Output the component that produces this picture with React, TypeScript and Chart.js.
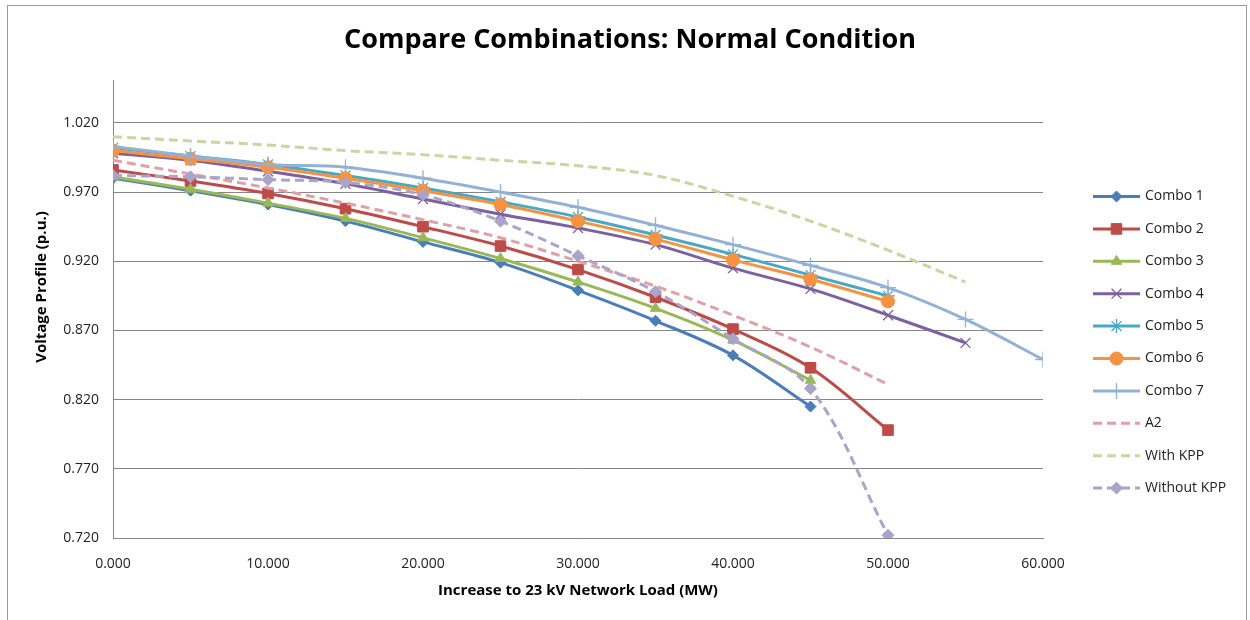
import React, { useEffect, useRef } from 'react';
import { Chart, registerables } from 'chart.js';
import { drawPoint } from 'chart.js/helpers';

Chart.register(...registerables);

// ---- data ----
const loads = [0, 5, 10, 15, 20, 25, 30, 35, 40, 45, 50, 55, 60];

const seriesNames = ['Combo 1', 'Combo 2', 'Combo 3', 'Combo 4', 'Combo 5', 'Combo 6', 'Combo 7', 'A2', 'With KPP', 'Without KPP'];

const combo1 = [0.980, 0.971, 0.961, 0.949, 0.934, 0.919, 0.899, 0.877, 0.852, 0.815];
const combo2 = [0.986, 0.978, 0.969, 0.958, 0.945, 0.931, 0.914, 0.894, 0.871, 0.843, 0.798];
const combo3 = [0.981, 0.972, 0.962, 0.951, 0.937, 0.922, 0.905, 0.886, 0.863, 0.834];
const combo4 = [0.998, 0.993, 0.985, 0.976, 0.965, 0.954, 0.944, 0.932, 0.915, 0.900, 0.881, 0.861];
const combo5 = [1.002, 0.996, 0.990, 0.982, 0.973, 0.963, 0.952, 0.939, 0.925, 0.910, 0.895];
const combo6 = [1.000, 0.994, 0.988, 0.980, 0.971, 0.961, 0.949, 0.936, 0.921, 0.907, 0.891];
const combo7 = [1.003, 0.996, 0.990, 0.988, 0.980, 0.970, 0.959, 0.946, 0.932, 0.917, 0.901, 0.878, 0.849];
const a2 = [0.993, 0.983, 0.973, 0.962, 0.950, 0.937, 0.920, 0.902, 0.881, 0.858, 0.831];
const withKpp = [1.010, 1.007, 1.004, 1.000, 0.997, 0.993, 0.989, 0.982, 0.967, 0.949, 0.928, 0.905];
const withoutKpp = [0.982, 0.981, 0.979, 0.977, 0.968, 0.949, 0.924, 0.898, 0.864, 0.828, 0.722];

const seriesValues = [combo1, combo2, combo3, combo4, combo5, combo6, combo7, a2, withKpp, withoutKpp];

const xTickValues = [0, 10, 20, 30, 40, 50, 60];
const yTickValues = [0.72, 0.77, 0.82, 0.87, 0.92, 0.97, 1.02];

const TITLE = 'Compare Combinations: Normal Condition';
const X_TITLE = 'Increase to 23 kV Network Load (MW)';
const Y_TITLE = 'Voltage Profile (p.u.)';

// ---- styles ----
const colors = ['#4A7EBB', '#BE4B48', '#98B954', '#7D60A0', '#46AAC5', '#F69240', '#93B1D7', '#E0A0A6', '#C5D8A0', '#A8A4CA'];
const pointStyles = ['rectRot', 'rect', 'triangle', 'crossRot', 'star', 'circle', 'cross', 'circle', 'circle', 'rectRot'];
const pointRadii = [5.5, 7.5, 6, 7, 7, 6.5, 8, 0, 0, 6];
const dashes: number[][] = [[], [], [], [], [], [], [], [9, 5], [9, 5], [9, 5]];

const FONT = '"Open Sans", sans-serif';

const decorPlugin = {
  id: 'decor',
  beforeDraw(chart: any) {
    const ctx = chart.ctx;
    ctx.save();
    ctx.fillStyle = '#ffffff';
    ctx.fillRect(0, 0, chart.width, chart.height);
    ctx.restore();
  },
  afterDraw(chart: any) {
    const ctx = chart.ctx;
    const area = chart.chartArea;
    ctx.save();
    // frame
    ctx.strokeStyle = '#9a9a9a';
    ctx.lineWidth = 1;
    ctx.strokeRect(7.5, 5.5, 1239, 640);

    // title
    ctx.fillStyle = '#000000';
    ctx.font = `bold 27px ${FONT}`;
    ctx.textAlign = 'center';
    ctx.textBaseline = 'middle';
    ctx.fillText(TITLE, 630, 40);

    // axis titles
    ctx.font = `bold 15px ${FONT}`;
    ctx.fillText(X_TITLE, (area.left + area.right) / 2, 591);
    ctx.save();
    ctx.translate(42, 287);
    ctx.rotate(-Math.PI / 2);
    ctx.fillText(Y_TITLE, 0, 0);
    ctx.restore();

    // legend
    const lx0 = 1093;
    const lx1 = 1140;
    const ly0 = 196.5;
    const step = 32.4;
    chart.data.datasets.forEach((ds: any, i: number) => {
      const y = ly0 + i * step;
      ctx.save();
      ctx.strokeStyle = ds.borderColor;
      ctx.lineWidth = 3;
      ctx.setLineDash(ds.borderDash || []);
      ctx.beginPath();
      ctx.moveTo(lx0, y);
      ctx.lineTo(lx1, y);
      ctx.stroke();
      ctx.restore();
      if (ds.pointRadius > 0) {
        ctx.save();
        ctx.fillStyle = ds.backgroundColor;
        ctx.strokeStyle = ds.borderColor;
        ctx.lineWidth = ds.pointBorderWidth;
        drawPoint(ctx, { pointStyle: ds.pointStyle, radius: ds.pointRadius, borderWidth: ds.pointBorderWidth, rotation: 0 }, (lx0 + lx1) / 2, y);
        ctx.restore();
      }
      ctx.fillStyle = '#222222';
      ctx.font = `14px ${FONT}`;
      ctx.textAlign = 'left';
      ctx.textBaseline = 'middle';
      ctx.fillText(ds.label, 1145, y);
    });
    ctx.restore();
  },
};

export default function App() {
  const ref = useRef<HTMLCanvasElement | null>(null);

  useEffect(() => {
    if (!ref.current) return;
    const n = seriesNames.length;
    const datasets = seriesNames.map((name, i) => {
      const lineMarker = ['star', 'cross', 'crossRot'].includes(pointStyles[i]);
      return {
        label: name,
        data: seriesValues[i].map((v, k) => ({ x: loads[k], y: v })),
        borderColor: colors[i],
        backgroundColor: colors[i],
        borderWidth: 3,
        borderDash: dashes[i],
        pointStyle: pointStyles[i],
        pointRadius: pointRadii[i],
        pointHoverRadius: pointRadii[i],
        pointBorderWidth: lineMarker ? 1.3 : 1,
        pointBorderColor: colors[i],
        pointBackgroundColor: colors[i],
        tension: 0.35,
        fill: false,
        order: n - i,
      };
    });

    const chart = new Chart(ref.current, {
      type: 'line',
      data: { datasets },
      options: {
        animation: false,
        responsive: false,
        devicePixelRatio: 1,
        layout: { padding: { top: 80, right: 207, left: 0, bottom: 0 } },
        plugins: { legend: { display: false }, title: { display: false }, tooltip: { enabled: false } },
        scales: {
          x: {
            type: 'linear',
            min: 0,
            max: 60,
            afterBuildTicks: (scale: any) => {
              scale.ticks = xTickValues.map((v) => ({ value: v }));
            },
            afterFit: (scale: any) => {
              scale.height = 82;
            },
            grid: { display: false, drawTicks: false },
            border: { display: true, color: '#868686', width: 1 },
            ticks: {
              padding: 18,
              maxRotation: 0,
              autoSkip: false,
              color: '#222222',
              font: { family: FONT, size: 14 },
              callback: (v: any) => Number(v).toFixed(3),
            },
          },
          y: {
            type: 'linear',
            min: 0.72,
            max: 1.051,
            afterBuildTicks: (scale: any) => {
              scale.ticks = yTickValues.map((v) => ({ value: v }));
            },
            afterFit: (scale: any) => {
              scale.width = 113;
            },
            grid: { display: true, drawTicks: false, color: '#868686', lineWidth: 1 },
            border: { display: true, color: '#868686', width: 1 },
            ticks: {
              padding: 14,
              autoSkip: false,
              color: '#222222',
              font: { family: FONT, size: 14 },
              callback: (v: any) => Number(v).toFixed(3),
            },
          },
        },
      },
      plugins: [decorPlugin],
    });
    return () => chart.destroy();
  }, []);

  return (
    <div style={{ position: 'fixed', left: 0, top: 0, width: 1250, height: 620, background: '#fff' }}>
      <canvas ref={ref} width={1250} height={620} style={{ display: 'block' }} />
    </div>
  );
}
